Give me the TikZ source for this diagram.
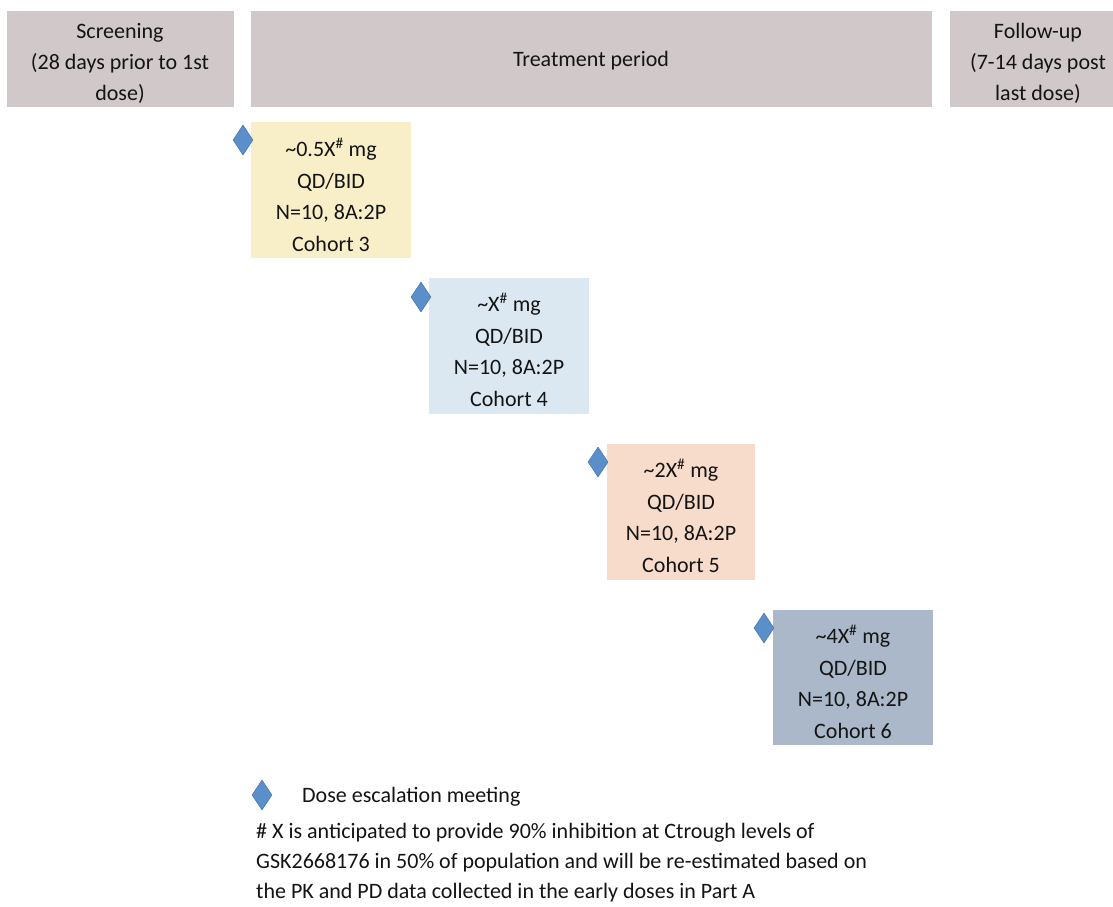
\documentclass[tikz,border=0pt]{standalone}
\usepackage{fontspec}
\setmainfont{Carlito}
\usetikzlibrary{shapes.geometric}
\definecolor{hdr}{RGB}{208,200,201}
\definecolor{cthree}{RGB}{248,239,200}
\definecolor{cfour}{RGB}{219,232,241}
\definecolor{cfive}{RGB}{248,220,203}
\definecolor{csix}{RGB}{170,184,202}
\definecolor{dia}{RGB}{91,143,201}
\definecolor{diab}{RGB}{65,113,170}
\definecolor{txt}{RGB}{20,20,20}
\tikzset{
  x=1pt,y=-1pt,
  every node/.style={text=txt,font=\fontsize{22}{31}\selectfont},
  hdrbox/.style={fill=hdr,draw=none},
  lbl/.style={align=center,inner sep=0},
  cohlbl/.style={align=center,inner sep=0,font=\fontsize{22}{31.6}\selectfont},
  meet/.style={diamond,fill=dia,draw=diab,line width=0.5pt,minimum width=20pt,minimum height=30pt,inner sep=0pt},
}
\begin{document}
\begin{tikzpicture}
\useasboundingbox (0,0) rectangle (1113,906);
% headers
\fill[hdrbox] (7,11) rectangle (234,107);
\fill[hdrbox] (251,11) rectangle (932,107);
\fill[hdrbox] (950,11) rectangle (1113,107);
\node[lbl] (scr) at (120,63) {Screening\\(28 days prior to 1st\\dose)};
\node[lbl] (trt) at (591,61) {Treatment period};
\node[lbl] (fup) at (1038,63) {Follow-up\\(7-14 days post\\last dose)};
% cohorts
\fill[cthree] (251,122) rectangle (411,258);
\fill[cfour] (429,278) rectangle (589,414);
\fill[cfive] (607,444) rectangle (755,580);
\fill[csix] (773,610) rectangle (933,745);
\node[cohlbl] (c3) at (331,195) {\textasciitilde0.5X\textsuperscript{\#} mg\\QD/BID\\N=10, 8A:2P\\Cohort 3};
\node[cohlbl] (c4) at (509,350) {\textasciitilde X\textsuperscript{\#} mg\\QD/BID\\N=10, 8A:2P\\Cohort 4};
\node[cohlbl] (c5) at (681,516) {\textasciitilde2X\textsuperscript{\#} mg\\QD/BID\\N=10, 8A:2P\\Cohort 5};
\node[cohlbl] (c6) at (853,682) {\textasciitilde4X\textsuperscript{\#} mg\\QD/BID\\N=10, 8A:2P\\Cohort 6};
% diamonds
\node[meet] (d3) at (243,140) {};
\node[meet] (d4) at (421,297) {};
\node[meet] (d5) at (598,462) {};
\node[meet] (d6) at (764,628) {};
% legend
\node[meet] (dl) at (262,795) {};
\node[anchor=west,inner sep=0] (leg) at (302,797) {Dose escalation meeting};
\node[anchor=north west,align=left,inner sep=0,font=\fontsize{22}{30}\selectfont] (foot) at (256,823) {\# X is anticipated to provide 90\% inhibition at Ctrough levels of\\GSK2668176 in 50\% of population and will be re-estimated based on\\the PK and PD data collected in the early doses in Part A};
\end{tikzpicture}
\end{document}
